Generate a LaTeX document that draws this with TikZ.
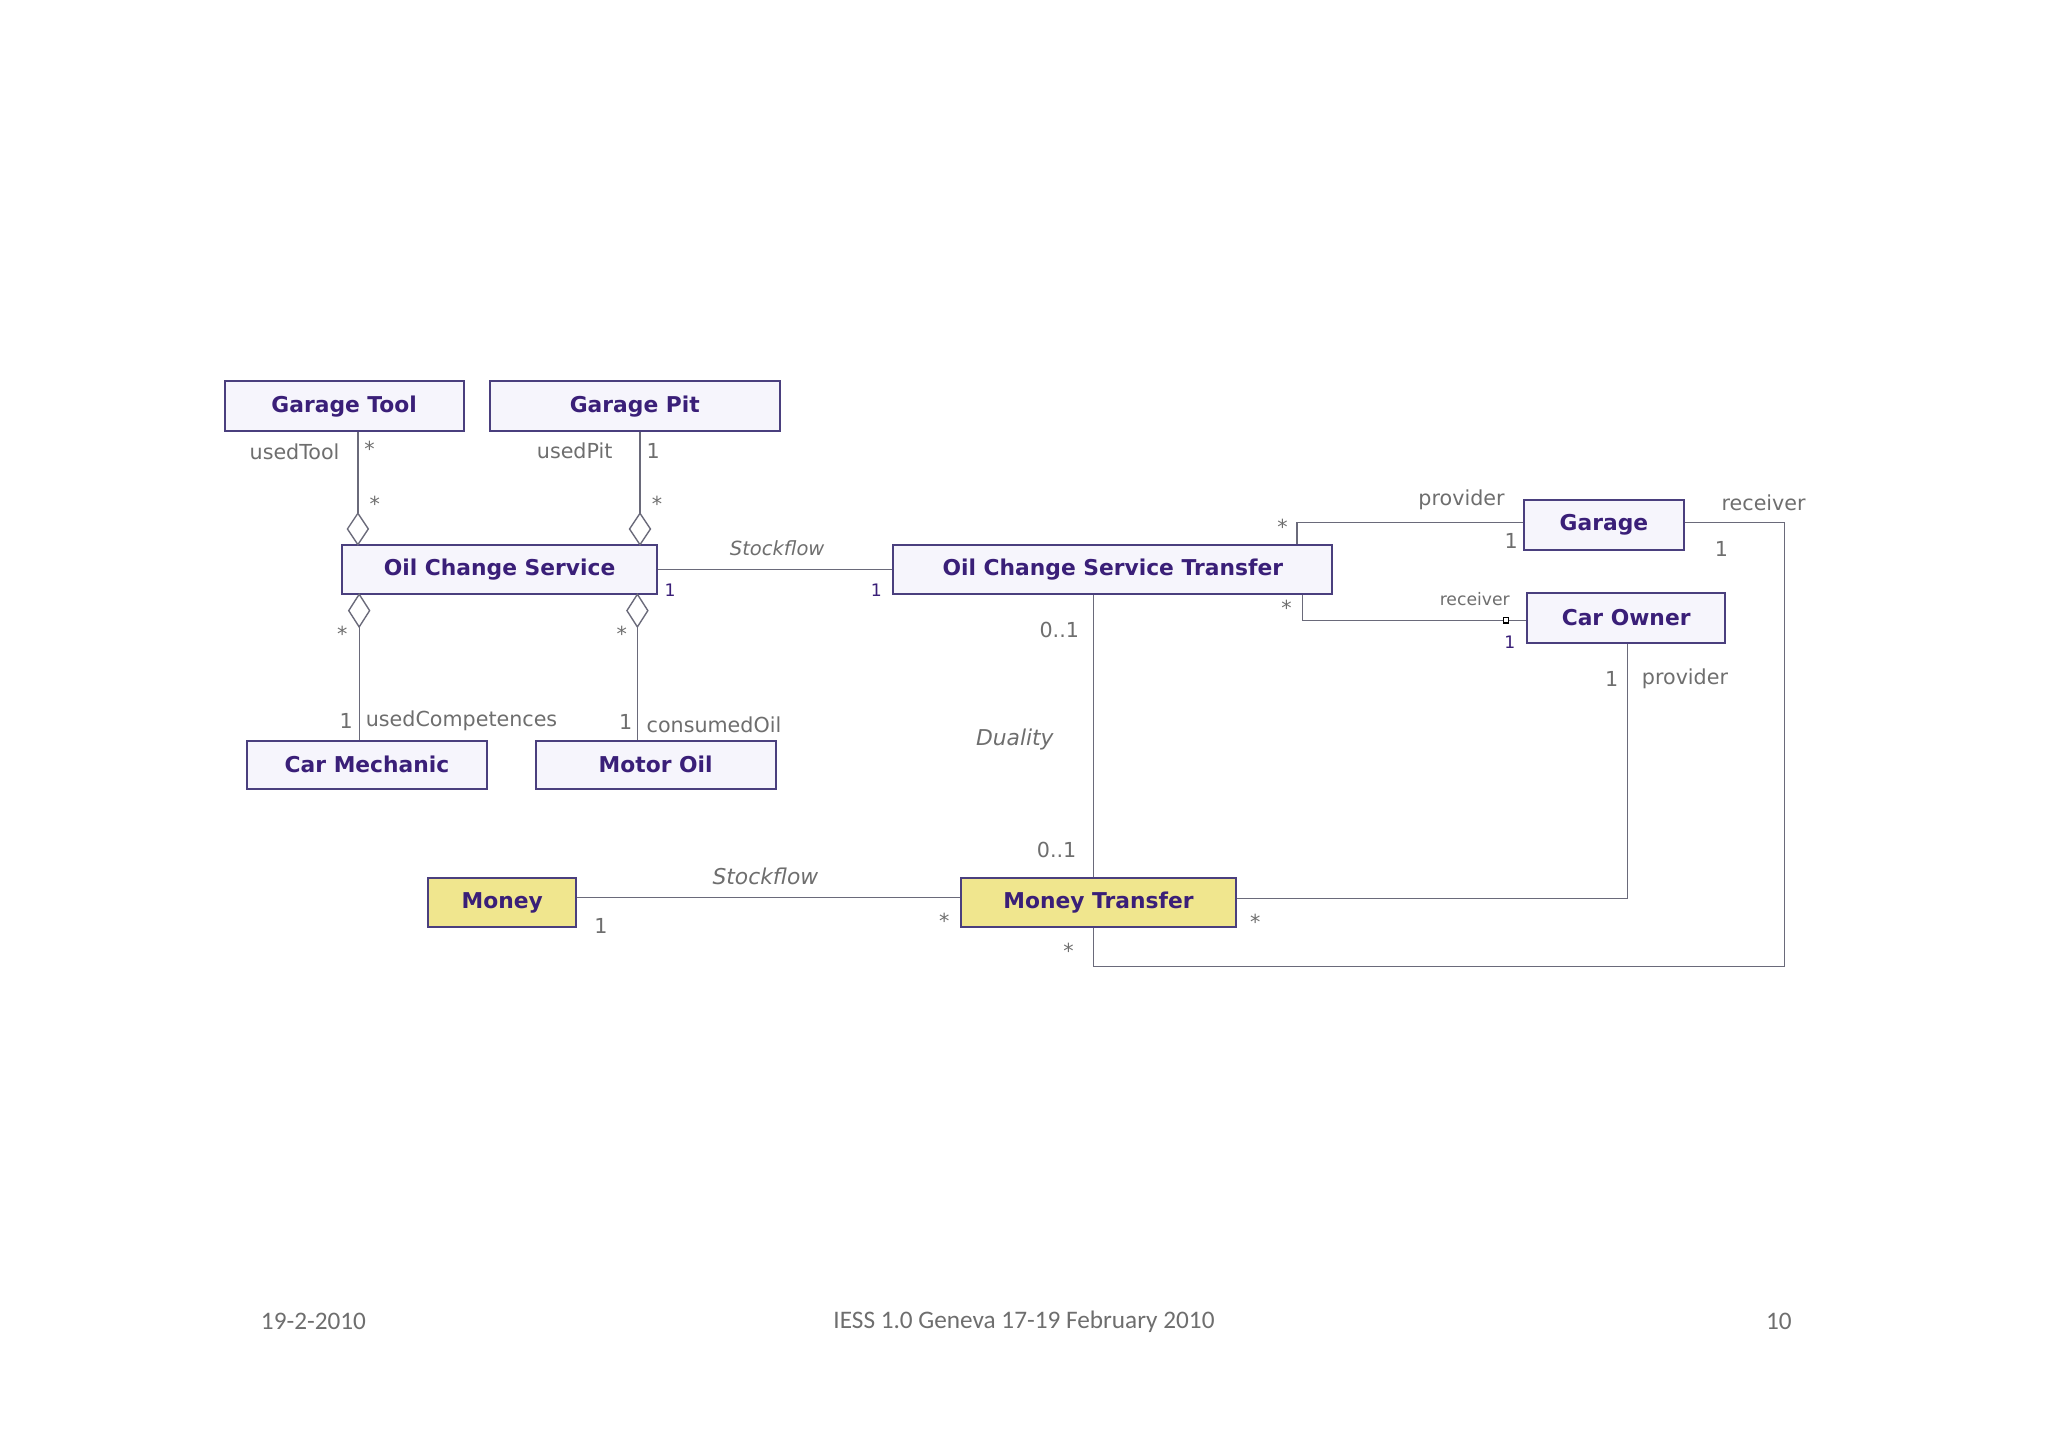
\documentclass[tikz,border=0pt]{standalone}
\usepackage{fontspec}
\setmainfont{DejaVu Sans}
\newfontfamily\foot{Carlito}
\begin{document}
\begin{tikzpicture}[x=0.02cm,y=-0.02cm,
  box/.style={draw=boxline,fill=boxfill,line width=0.9pt,inner sep=0pt,font=\bfseries\fontsize{9.5}{11}\selectfont,text=boxtext},
  ybox/.style={box,fill=ybox},
  ln/.style={draw=lncol,line width=0.6pt},
  lab/.style={font=\fontsize{9}{10}\selectfont,text=labcol,inner sep=1pt},
  sm/.style={font=\fontsize{7.5}{9}\selectfont,text=boxtext,inner sep=1pt},
  it/.style={font=\itshape\fontsize{8.5}{10}\selectfont,text=labcol,inner sep=1pt},
  dia/.style={draw=lncol,fill=white,line width=0.6pt}]
\definecolor{boxline}{HTML}{4A3F7E}
\definecolor{boxfill}{HTML}{F6F5FC}
\definecolor{boxtext}{HTML}{3A1F78}
\definecolor{ybox}{HTML}{F0E68E}
\definecolor{lncol}{HTML}{6A6A7A}
\definecolor{labcol}{HTML}{6E6E6E}
\useasboundingbox (0,0) rectangle (1568,1108);
\fill[white] (0,0) rectangle (1568,1108);
% boxes
\node[box,minimum width=3.66cm,minimum height=0.76cm] (gt) at (263.5,311) {Garage Tool};
\node[box,minimum width=4.44cm,minimum height=0.76cm] (gp) at (486,311) {Garage Pit};
\node[box,minimum width=4.82cm,minimum height=0.76cm] (ocs) at (382.5,436) {Oil Change Service};
\node[box,minimum width=6.72cm,minimum height=0.76cm] (ocst) at (852,436) {Oil Change Service Transfer};
\node[box,minimum width=2.44cm,minimum height=0.76cm] (gar) at (1228,402) {Garage};
\node[box,minimum width=3.04cm,minimum height=0.76cm] (co) at (1245,473) {Car Owner};
\node[box,minimum width=3.68cm,minimum height=0.74cm] (cm) at (281,585.5) {Car Mechanic};
\node[box,minimum width=3.68cm,minimum height=0.74cm] (mo) at (502,585.5) {Motor Oil};
\node[ybox,minimum width=2.26cm,minimum height=0.76cm] (mon) at (384.5,691) {Money};
\node[ybox,minimum width=4.2cm,minimum height=0.76cm] (mt) at (841,691) {Money Transfer};
% diamonds
\coordinate (d1) at (274,393); \coordinate (d2) at (490,393);
\coordinate (d3) at (275,480); \coordinate (d4) at (488,480);
\draw[ln] (gt.south -| d1) -- (d1);
\draw[dia] (274,393) -- (282,405) -- (274,417) -- (266,405) -- cycle;
\draw[ln] (gp.south -| d2) -- (d2);
\draw[dia] (490,393) -- (498,405) -- (490,417) -- (482,405) -- cycle;
\draw[ln] (d3) -- (cm.north -| d3);
\draw[dia] (275,455) -- (283,467.5) -- (275,480) -- (267,467.5) -- cycle;
\draw[ln] (d4) -- (mo.north -| d4);
\draw[dia] (488,455) -- (496,467.5) -- (488,480) -- (480,467.5) -- cycle;
% connectors
\draw[ln] (ocs.east) -- (ocst.west);
\draw[ln] (ocst.north -| 993,0) |- (gar.west |- 0,400);
\draw[ln] (ocst.south -| 997,0) |- (co.west |- 0,475);
\draw[line width=0.6pt,black,fill=white] (1151,473) rectangle (1155,477);
\draw[ln] (gar.east |- 0,400) -| (1366,740) -| (mt.south -| 837,0);
\draw[ln] (ocst.south -| 837,0) -- (mt.north -| 837,0);
\draw[ln] (co.south -| 1246,0) |- (mt.east |- 0,688);
\draw[ln] (mon.east |- 0,687) -- (mt.west |- 0,687);
% labels
\node[lab,anchor=east] at (262,346) {usedTool};
\node[lab] at (283,344) {*};
\node[lab] at (287,386) {*};
\node[lab,anchor=east] at (471,345) {usedPit};
\node[lab] at (500,345) {1};
\node[lab] at (503,386) {*};
\node[lab] at (262,485) {*};
\node[lab] at (476,485) {*};
\node[lab] at (265,552) {1};
\node[lab,anchor=west] at (278,552) {usedCompetences};
\node[lab] at (479,553) {1};
\node[lab,anchor=west] at (493,555) {consumedOil};
\node[it] at (595,420) {Stockflow};
\node[sm] at (513,452) {1};
\node[sm] at (671,452) {1};
\node[lab] at (811,482) {0..1};
\node[it,font=\itshape\fontsize{9.5}{11}\selectfont] at (777,566) {Duality};
\node[lab] at (809,651) {0..1};
\node[lab,anchor=east] at (1154,383) {provider};
\node[lab] at (982,403) {*};
\node[lab] at (1157,414) {1};
\node[lab,anchor=west] at (1316,385) {receiver};
\node[lab] at (1318,420) {1};
\node[lab] at (985,465) {*};
\node[sm,text=labcol,anchor=east] at (1158,459) {receiver};
\node[sm] at (1156,492) {1};
\node[lab] at (1234,520) {1};
\node[lab,anchor=west] at (1255,520) {provider};
\node[it,font=\itshape\fontsize{9.5}{11}\selectfont] at (586,671) {Stockflow};
\node[lab] at (460,709) {1};
\node[lab] at (723,705) {*};
\node[lab] at (961,706) {*};
\node[lab] at (818,728) {*};
% footer
\node[font=\foot\fontsize{11}{13}\selectfont,text=labcol] at (240,1012) {19-2-2010};
\node[font=\foot\fontsize{11}{13}\selectfont,text=labcol] at (784,1012) {IESS 1.0 Geneva 17-19 February 2010};
\node[font=\foot\fontsize{11}{13}\selectfont,text=labcol] at (1362,1012) {10};
\end{tikzpicture}
\end{document}
